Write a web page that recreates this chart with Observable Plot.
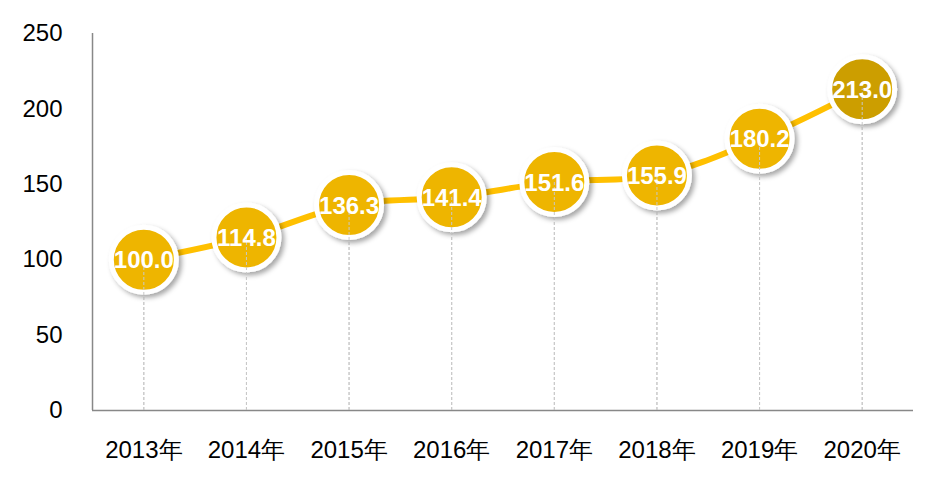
<!DOCTYPE html>
<html>
<head>
<meta charset="utf-8">
<script src="https://cdn.jsdelivr.net/npm/d3@7"></script>
<script src="https://cdn.jsdelivr.net/npm/@observablehq/plot@0.6"></script>
<style>
  html, body { margin: 0; padding: 0; background: #fff; }
  #chart svg { display: block; }
</style>
</head>
<body>
<div id="chart"></div>
<script>
const years = ["2013年", "2014年", "2015年", "2016年", "2017年", "2018年", "2019年", "2020年"];
const values = [100.0, 114.8, 136.3, 141.4, 151.6, 155.9, 180.2, 213.0];
const yTicks = [0, 50, 100, 150, 200, 250];

const data = years.map((year, i) => ({year, value: values[i], last: i === years.length - 1}));

const chart = Plot.plot({
  width: 945,
  height: 494,
  marginLeft: 92,
  marginRight: 32,
  marginTop: 33,
  marginBottom: 84,
  style: {fontFamily: "Arial, 'Liberation Sans', sans-serif", fontSize: "24px", color: "#000", background: "#fff"},
  x: {type: "point", domain: years, padding: 0.5, round: false, label: null, tickSize: 0, tickPadding: 30},
  y: {domain: [0, 250], ticks: yTicks, label: null, tickSize: 0, tickPadding: 30},
  color: {type: "identity"},
  marks: [
    Plot.ruleX(data, {x: "year", y1: 0, y2: "value", stroke: "#c8c8c8", strokeWidth: 1, strokeDasharray: "3,2"}),
    Plot.ruleY([0], {stroke: "#888", strokeWidth: 1.5}),
    Plot.ruleX([years[0]], {stroke: "#888", strokeWidth: 1.5, dx: -51.3, y1: 0, y2: 250}),
    Plot.line(data, {x: "year", y: "value", stroke: "#FFC000", strokeWidth: 6, curve: "catmull-rom"}),
    Plot.dot(data, {x: "year", y: "value", r: 32.5, fill: d => d.last ? "#CC9E00" : "#EEB500", stroke: "#fff", strokeWidth: 5}),
    Plot.ruleX(data, {x: "year", y1: 0, y2: "value", stroke: "#c8c8c8", strokeWidth: 1, strokeDasharray: "3,2"}),
    Plot.text(data, {x: "year", y: "value", text: d => d.value.toFixed(1), fill: "#fff", fontWeight: "bold", fontSize: 24, dy: 1})
  ]
});

const svg = d3.select(chart);
const defs = svg.insert("defs", ":first-child");
const f = defs.append("filter").attr("id", "shadow").attr("x", "-30%").attr("y", "-30%").attr("width", "170%").attr("height", "170%");
f.append("feDropShadow").attr("dx", 3).attr("dy", 3).attr("stdDeviation", 2.5).attr("flood-color", "#000").attr("flood-opacity", 0.35);
svg.selectAll('g[aria-label="dot"] circle').attr("filter", "url(#shadow)");

document.getElementById("chart").appendChild(chart);
</script>
</body>
</html>
